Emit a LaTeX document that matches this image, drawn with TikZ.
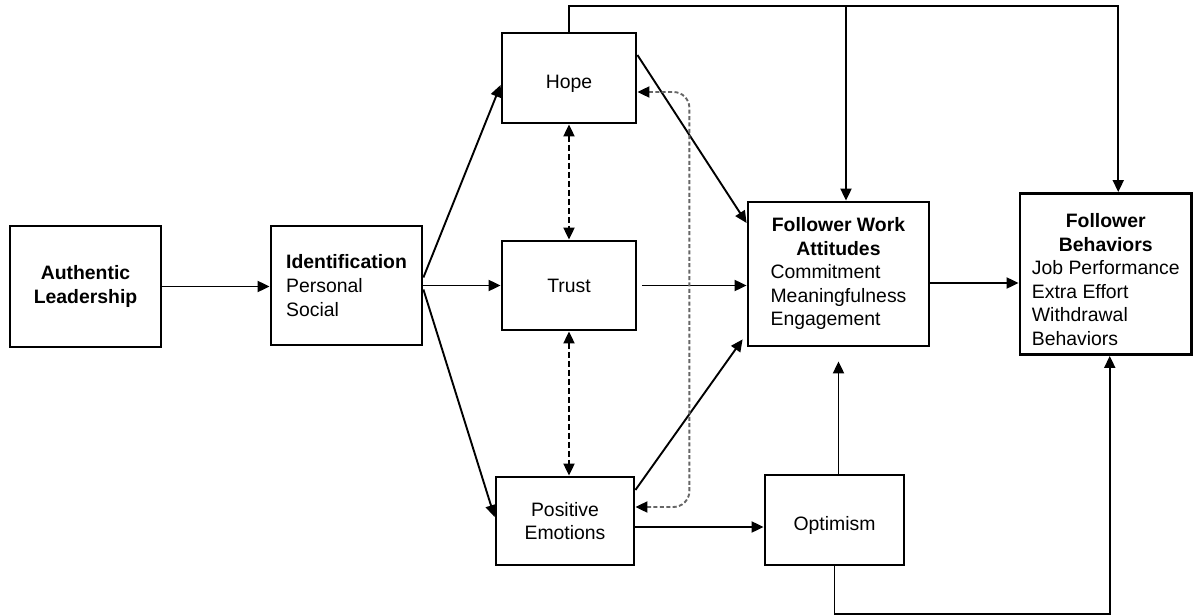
\documentclass[tikz,border=0pt]{standalone}
\usepackage{fontspec}
\setmainfont{Liberation Sans}
\usetikzlibrary{arrows.meta}

\begin{document}
\begin{tikzpicture}[x=0.5pt, y=-0.5pt,
  every node/.style={draw, line width=1.4pt, inner sep=2pt, font=\fontsize{9.7}{11.8}\selectfont},
  arr/.style={-{Triangle[length=6pt,width=5.5pt]}, line width=0.95pt},
  dub/.style={{Triangle[length=6pt,width=5.5pt,color=black]}-{Triangle[length=6pt,width=5.5pt,color=black]}, line width=0.95pt, dash pattern=on 3pt off 1.5pt}]

\path[use as bounding box] (0,0) rectangle (1194,615);

% Left side
\node[minimum width=75.5pt, minimum height=60.5pt, align=center] (lead) at (85.5,286.5) {\textbf{Authentic}\\\textbf{Leadership}};
\node[minimum width=75.5pt, minimum height=59.5pt, align=left] (iden) at (346.5,285.5) {\textbf{Identification}\\Personal\\Social};

% Middle column
\node[minimum width=67pt, minimum height=45pt] (hope) at (569,78) {\raisebox{-3pt}[\height][\depth]{Hope}};
\node[minimum width=67pt, minimum height=44.5pt] (trust) at (569,285.5) {Trust};
\node[minimum width=69pt, minimum height=44pt, align=center] (pe) at (565,521) {Positive\\Emotions};
\node[minimum width=69.5pt, minimum height=45pt] (opt) at (834.5,520) {\raisebox{-2.5pt}[\height][\depth]{Optimism}};

% Outcomes
\node[minimum width=90.5pt, minimum height=72pt, inner sep=1pt] (fwa) at (838.5,274) {\begin{tabular}{@{}l@{}}\multicolumn{1}{@{}c@{}}{\textbf{Follower Work}}\\\multicolumn{1}{@{}c@{}}{\textbf{Attitudes}}\\Commitment\\Meaningfulness\\Engagement\end{tabular}};
\node[minimum width=85.75pt, minimum height=74pt, inner sep=1pt] (fb) at (1105.75,274) {\begin{tabular}{@{}l@{}}\multicolumn{1}{@{}c@{}}{\rule{0pt}{16pt}\textbf{Follower}}\\\multicolumn{1}{@{}c@{}}{\textbf{Behaviors}}\\Job Performance\\Extra Effort\\Withdrawal\\Behaviors\end{tabular}};

% Helper points
\coordinate (top) at ([yshift=13pt]hope.north);
\coordinate (fwain) at ([xshift=3.75pt]fwa.north);
\coordinate (fbin) at ([xshift=6.25pt]fb.north);
\coordinate (hopeback) at ([yshift=-7pt]hope.east);
\coordinate (peback) at ([yshift=7pt]pe.east);
\coordinate (bend) at ([xshift=26pt]hope.east);
\coordinate (optup) at ([xshift=2pt]opt.north);
\coordinate (fwabot) at ([yshift=-7pt]fwa.south);
\coordinate (fbout) at ([xshift=2pt]fb.south);

% Edges
\draw[arr] (lead.east) -- (lead.east -| iden.west);
\draw[arr] ([yshift=4pt]iden.east) -- ([yshift=-3.5pt]hope.west);
\draw[arr] (iden.east) -- (iden.east -| trust.west);
\draw[arr] ([yshift=-2pt]iden.east) -- ([yshift=2pt]pe.west);
\draw[dub] (hope.south) -- (trust.north);
\draw[dub] (trust.south) -- (trust.south |- pe.north);
\draw[arr] ([yshift=11.5pt]hope.east) -- ([yshift=25.5pt]fwa.west);
\draw[arr] ([xshift=2.5pt]trust.east) -- (trust.east -| fwa.west);
\draw[arr] ([yshift=15.5pt]pe.east) -- ([xshift=-2pt,yshift=4pt]fwa.south west);
\draw[arr] ([yshift=-4.5pt]fwa.east) -- ([yshift=-4.5pt]fwa.east -| fb.west);
\draw[arr] ([yshift=-3pt]pe.east) -- ([yshift=-3pt]pe.east -| opt.west);
\draw[arr] (optup) -- (optup |- fwabot);
\draw[arr] (opt.south) -- ++(0,-24pt) -| (fbout);
\draw[arr] (hope.north) -- (top) -| (fbin);
\draw[arr] (top -| fwain) -- (fwain);
\draw[dub, black!60, dash pattern=on 2pt off 1.2pt, rounded corners=8pt] (hopeback) -| (bend |- peback) -- (peback);
\end{tikzpicture}
\end{document}
